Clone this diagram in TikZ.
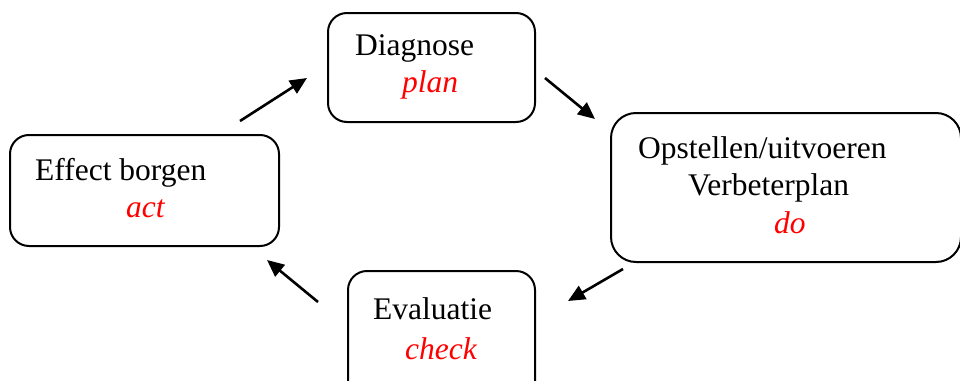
\documentclass[tikz,border=0pt]{standalone}
\usepackage{fontspec}
\setmainfont{Liberation Serif}
\usetikzlibrary{arrows.meta}
\definecolor{labelred}{RGB}{255,0,0}
\tikzset{
  box/.style={draw=black, line width=2pt, rectangle, rounded corners=19pt, inner sep=0pt},
  txt/.style={inner sep=0pt, anchor=base west, font=\fontsize{31.5}{38}\selectfont},
  phase/.style={txt, text=labelred, font=\fontsize{31.5}{38}\selectfont\itshape},
  flow/.style={line width=2.6pt, -{Triangle[length=17pt,width=15pt]}}
}
\begin{document}
\begin{tikzpicture}[x=1pt,y=-1pt]
\useasboundingbox (0,0) rectangle (960,380);
\clip (0,0) rectangle (960,380);
% boxes
\node[box, minimum width=207pt, minimum height=109pt] (diag) at (431.5,67.5) {};
\node[box, minimum width=269pt, minimum height=111pt] (effect) at (144.5,190.5) {};
\node[box, minimum width=350pt, minimum height=149pt, rounded corners=25pt] (opst) at (786,187.5) {};
\node[box, minimum width=187pt, minimum height=140pt] (eval) at (441.5,341) {};
% texts
\node[txt] (tdiag) at (355,55) {Diagnose};
\node[phase] (tplan) at (402,92) {plan};
\node[txt] (teff) at (35,180) {Effect borgen};
\node[phase] (tact) at (126,217) {act};
\node[txt] (topst) at (638,158) {Opstellen/uitvoeren};
\node[txt] (tverb) at (688,195) {Verbeterplan};
\node[phase] (tdo) at (774,233) {do};
\node[txt] (teval) at (373,319) {Evaluatie};
\node[phase] (tcheck) at (405,359) {check};
% arrow end points
\coordinate (a1s) at (240,121);
\coordinate (a1e) at (307,78);
\coordinate (a2s) at (545,78);
\coordinate (a2e) at (595,119);
\coordinate (a3s) at (623,269);
\coordinate (a3e) at (568,301);
\coordinate (a4s) at (318,302);
\coordinate (a4e) at (267,260);
\draw[flow] (a1s) -- (a1e);
\draw[flow] (a2s) -- (a2e);
\draw[flow] (a3s) -- (a3e);
\draw[flow] (a4s) -- (a4e);
\end{tikzpicture}
\end{document}
